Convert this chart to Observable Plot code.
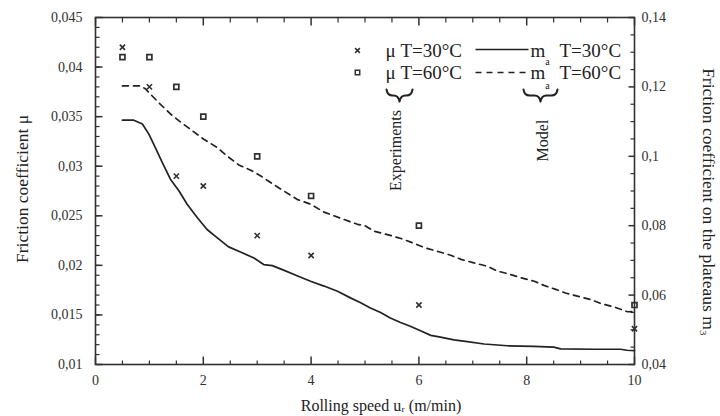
<!DOCTYPE html>
<html><head><meta charset="utf-8">
<script src="https://cdn.jsdelivr.net/npm/d3@7"></script>
<script src="https://cdn.jsdelivr.net/npm/@observablehq/plot@0.6"></script>
<style>
body{margin:0;background:#fff}
svg{font-family:"Liberation Serif","DejaVu Serif",serif}
</style>
</head><body><div id="chart"></div>
<script>
// Experimental friction coefficient μ (left axis)
const speedExp = [0.5, 1, 1.5, 2, 3, 4, 6, 10];
const mu30 = [0.042, 0.038, 0.029, 0.028, 0.023, 0.021, 0.016, 0.0136];
const mu60 = [0.041, 0.041, 0.038, 0.035, 0.031, 0.027, 0.024, 0.016];

// Model m_a (right axis)
const speedModel30 = [0.5,0.71,0.87,0.99,1.11,1.24,1.39,1.55,1.70,1.89,2.07,2.26,2.47,2.69,2.94,3.12,3.28,3.49,3.74,3.99,4.24,4.49,4.73,4.92,5.10,5.29,5.47,5.66,5.84,6.03,6.22,6.40,6.65,6.90,7.21,7.64,8.13,8.50,8.63,9.25,9.74,9.86,10];
const ma30 = [0.1104,0.1104,0.1093,0.1064,0.1025,0.0982,0.0934,0.0900,0.0862,0.0823,0.0789,0.0765,0.0739,0.0724,0.0707,0.0688,0.0685,0.0672,0.0656,0.0640,0.0626,0.0611,0.0592,0.0578,0.0563,0.0550,0.0534,0.0521,0.0510,0.0497,0.0484,0.0479,0.0471,0.0466,0.0459,0.0454,0.0452,0.0450,0.0445,0.0444,0.0444,0.0441,0.0440];
const speedModel60 = [0.5,0.84,0.93,1.02,1.17,1.39,1.55,1.76,2.01,2.26,2.44,2.66,2.88,3.09,3.28,3.74,3.99,4.24,4.61,4.86,5.01,5.17,5.47,5.69,5.91,6.12,6.37,6.59,6.78,7.02,7.27,7.46,7.64,7.89,8.14,8.32,8.51,8.72,8.94,9.19,9.37,9.62,9.87,10];
const ma60 = [0.1203,0.1203,0.1194,0.1179,0.1155,0.1122,0.1102,0.1078,0.1049,0.1025,0.1001,0.0975,0.0960,0.0941,0.0921,0.0876,0.0862,0.0839,0.0818,0.0804,0.0799,0.0784,0.0772,0.0762,0.0749,0.0736,0.0725,0.0715,0.0703,0.0693,0.0683,0.0669,0.0662,0.0650,0.0640,0.0628,0.0618,0.0606,0.0597,0.0587,0.0576,0.0566,0.0552,0.0553];

// Ticks
const xTicks = [0, 2, 4, 6, 8, 10];
const xMinorTicks = [0.5,1,1.5,2.5,3,3.5,4.5,5,5.5,6.5,7,7.5,8.5,9,9.5];
const muTicks = [0.01, 0.015, 0.02, 0.025, 0.03, 0.035, 0.04, 0.045];
const muMinorTicks = d3.range(0.011, 0.045, 0.001);
const maTicks = [0.04, 0.06, 0.08, 0.1, 0.12, 0.14];
const maMinorTicks = [0.045,0.05,0.055,0.065,0.07,0.075,0.085,0.09,0.095,0.105,0.11,0.115,0.125,0.13,0.135];

// Texts
const legendMu30 = "μ T=30°C";
const legendMu60 = "μ T=60°C";
const legendM = "m";
const legendSub = "a";
const legendT30 = "T=30°C";
const legendT60 = "T=60°C";
const groupExp = "Experiments";
const groupModel = "Model";
const xLabel = "Rolling speed uᵣ (m/min)";
const yLabel = "Friction coefficient μ";
const y2Label = "Friction coefficient on the plateaus m₃";

// Right axis (m_a 0.04–0.14) mapped onto left scale (μ 0.01–0.045)
const toMu = m => 0.01 + (m - 0.04) * 0.35;
const toMa = v => 0.04 + (v - 0.01) / 0.35;
const fmt = v => String(+v.toFixed(4)).replace(".", ",");

const exp = speedExp.map((s, i) => ({s, mu30: mu30[i], mu60: mu60[i]}));
const model30 = speedModel30.map((s, i) => ({s, v: toMu(ma30[i])}));
const model60 = speedModel60.map((s, i) => ({s, v: toMu(ma60[i])}));

const ink = "#303030";
const dark = "#222";
const lineShape = {draw(ctx, l) { ctx.moveTo(0, 0); ctx.lineTo(0, -l); }};
// horizontal curly brace, cusp pointing down, width = length
const braceShape = {draw(ctx, w) {
  const h = 6, a = w / 2;
  ctx.moveTo(-a, -h);
  ctx.quadraticCurveTo(-a + 1, 0, -a + h, 0);
  ctx.lineTo(-h, 0);
  ctx.quadraticCurveTo(-1, 0, 0, h);
  ctx.quadraticCurveTo(1, 0, h, 0);
  ctx.lineTo(a - h, 0);
  ctx.quadraticCurveTo(a - 1, 0, a, -h);
}};
const TL = "top-left";
const serif = "'Liberation Serif', 'DejaVu Serif', serif";
const T = {textAnchor: "middle", lineAnchor: "middle", fill: dark, fontFamily: serif, text: d => d};

const tickV = (data, opts) => Plot.vector(data, {anchor: "start", shape: lineShape, stroke: ink, strokeLinecap: "butt", ...opts});

const plot = Plot.plot({
  width: 720, height: 416,
  marginLeft: 95, marginRight: 86, marginTop: 17, marginBottom: 52,
  style: {fontFamily: serif, fontSize: "14px", color: ink, background: "#fff"},
  x: {domain: [0, 10]},
  y: {domain: [0.01, 0.045]},
  marks: [
    // inward tick marks
    tickV(xMinorTicks, {x: d => d, frameAnchor: "bottom", rotate: 0, length: 4, strokeWidth: 1.2}),
    tickV(xTicks, {x: d => d, frameAnchor: "bottom", rotate: 0, length: 8, strokeWidth: 1.5}),
    tickV(xMinorTicks, {x: d => d, frameAnchor: "top", rotate: 180, length: 5, strokeWidth: 1.2}),
    tickV(xTicks, {x: d => d, frameAnchor: "top", rotate: 180, length: 8, strokeWidth: 1.5}),
    tickV(muMinorTicks, {y: d => d, frameAnchor: "left", rotate: 90, length: 4, strokeWidth: 1.2}),
    tickV(muTicks, {y: d => d, frameAnchor: "left", rotate: 90, length: 7, strokeWidth: 1.5}),
    tickV(maMinorTicks.map(toMu), {y: d => d, frameAnchor: "right", rotate: 270, length: 4, strokeWidth: 1.2}),
    tickV(maTicks.map(toMu), {y: d => d, frameAnchor: "right", rotate: 270, length: 6, strokeWidth: 1.5}),
    // tick labels
    Plot.axisX(xTicks, {anchor: "bottom", tickSize: 0, tickPadding: 11, label: null, fontSize: 14}),
    Plot.axisY(muTicks, {anchor: "left", tickSize: 0, tickPadding: 13, label: null, fontSize: 14, tickFormat: fmt}),
    Plot.axisY(maTicks.map(toMu), {anchor: "right", tickSize: 0, tickPadding: 7, label: null, fontSize: 14, tickFormat: d => fmt(toMa(d))}),
    // model curves
    Plot.line(model30, {x: "s", y: "v", stroke: dark, strokeWidth: 1.7}),
    Plot.line(model60, {x: "s", y: "v", stroke: dark, strokeWidth: 1.7, strokeDasharray: "6,5"}),
    // experiments
    Plot.dot(exp, {x: "s", y: "mu30", symbol: "times", r: 2.5, stroke: ink, strokeWidth: 1.6}),
    Plot.dot(exp, {x: "s", y: "mu60", symbol: "square", r: 2.8, stroke: ink, fill: "none", strokeWidth: 1.7}),
    // frame
    Plot.frame({stroke: ink, strokeWidth: 1.6}),
    // legend
    Plot.dot([0], {frameAnchor: TL, dx: 262, dy: 33, symbol: "times", r: 2.3, stroke: ink, strokeWidth: 1.5}),
    Plot.dot([0], {frameAnchor: TL, dx: 262, dy: 55, symbol: "square", r: 2.5, stroke: ink, fill: "none", strokeWidth: 1.5}),
    Plot.text([legendMu30], {...T, frameAnchor: TL, dx: 290, dy: 33.6, textAnchor: "start", fontSize: 19}),
    Plot.text([legendMu60], {...T, frameAnchor: TL, dx: 290, dy: 55.2, textAnchor: "start", fontSize: 19}),
    Plot.vector([0], {frameAnchor: TL, dx: 380, dy: 32, rotate: 90, length: 53, anchor: "start", shape: lineShape, stroke: dark, strokeWidth: 1.6, strokeLinecap: "butt"}),
    Plot.vector([0], {frameAnchor: TL, dx: 380, dy: 55, rotate: 90, length: 53, anchor: "start", shape: lineShape, stroke: dark, strokeWidth: 1.6, strokeDasharray: "6,5", strokeLinecap: "butt"}),
    Plot.text([legendM], {...T, frameAnchor: TL, dx: 435, dy: 33.6, textAnchor: "start", fontSize: 19}),
    Plot.text([legendM], {...T, frameAnchor: TL, dx: 435, dy: 55.2, textAnchor: "start", fontSize: 19}),
    Plot.text([legendSub], {...T, frameAnchor: TL, dx: 452, dy: 44, fontSize: 10}),
    Plot.text([legendSub], {...T, frameAnchor: TL, dx: 452, dy: 68, fontSize: 10}),
    Plot.text([legendT30], {...T, frameAnchor: TL, dx: 464, dy: 33.6, textAnchor: "start", fontSize: 19}),
    Plot.text([legendT60], {...T, frameAnchor: TL, dx: 464, dy: 55.2, textAnchor: "start", fontSize: 19}),
    // braces grouping the legend
    Plot.vector([0], {frameAnchor: TL, dx: 304, dy: 78, rotate: 0, length: 26, anchor: "start", shape: braceShape, stroke: dark, strokeWidth: 2}),
    Plot.vector([0], {frameAnchor: TL, dx: 445, dy: 78, rotate: 0, length: 34, anchor: "start", shape: braceShape, stroke: dark, strokeWidth: 2}),
    Plot.text([groupExp], {...T, frameAnchor: TL, dx: 300, dy: 133, rotate: -90, fontSize: 16}),
    Plot.text([groupModel], {...T, frameAnchor: TL, dx: 447, dy: 123, rotate: -90, fontSize: 16}),
    // axis titles
    Plot.text([yLabel], {...T, frameAnchor: "left", dx: -73, dy: -2, rotate: -90, fontSize: 17.5}),
    Plot.text([y2Label], {...T, frameAnchor: "right", dx: 74, dy: 11, rotate: 90, fontSize: 17.5}),
    Plot.text([xLabel], {...T, frameAnchor: "bottom", dx: 16, dy: 41, fontSize: 16})
  ]
});
document.getElementById("chart").appendChild(plot);
</script>
</body></html>
